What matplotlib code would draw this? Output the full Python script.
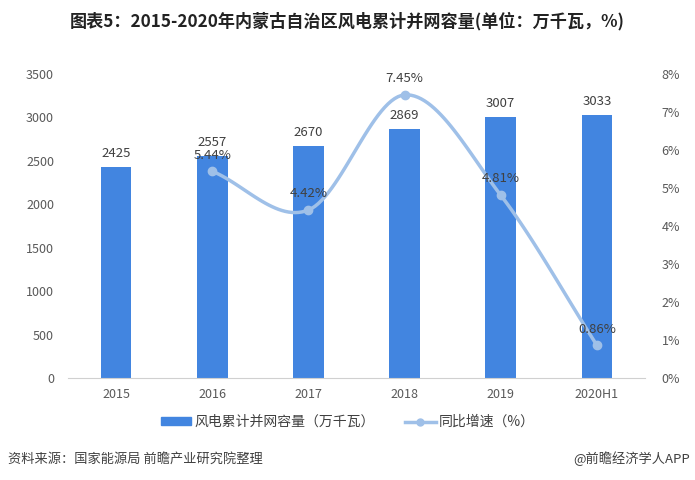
import numpy as np
import matplotlib
matplotlib.use("Agg")
import matplotlib.pyplot as plt
from matplotlib.lines import Line2D
from matplotlib.patches import Patch

plt.rcParams['font.family'] = ['Noto Sans CJK SC', 'DejaVu Sans']

categories = ['2015', '2016', '2017', '2018', '2019', '2020H1']
capacity = [2425, 2557, 2670, 2869, 3007, 3033]
growth_cats = ['2016', '2017', '2018', '2019', '2020H1']
growth = [5.44, 4.42, 7.45, 4.81, 0.86]
left_ticks = [0, 500, 1000, 1500, 2000, 2500, 3000, 3500]
right_ticks = [0, 1, 2, 3, 4, 5, 6, 7, 8]

bar_color = '#4285e0'
line_color = '#9fc0e8'
text_color = '#404040'
tick_color = '#595959'


def smooth(xs, ys, n=30):
    # catmull-rom through the points, only for drawing the curve
    xs = np.asarray(xs, float)
    ys = np.asarray(ys, float)
    px = np.concatenate([[2 * xs[0] - xs[1]], xs, [2 * xs[-1] - xs[-2]]])
    py = np.concatenate([[2 * ys[0] - ys[1]], ys, [2 * ys[-1] - ys[-2]]])
    ox, oy = [], []
    for i in range(1, len(px) - 2):
        t = np.linspace(0, 1, n)
        for p, o in ((px, ox), (py, oy)):
            p0, p1, p2, p3 = p[i - 1], p[i], p[i + 1], p[i + 2]
            o.extend(0.5 * (2 * p1 + (-p0 + p2) * t
                            + (2 * p0 - 5 * p1 + 4 * p2 - p3) * t ** 2
                            + (-p0 + 3 * p1 - 3 * p2 + p3) * t ** 3))
    return np.array(ox), np.array(oy)


fig = plt.figure(figsize=(6.95, 4.8), dpi=100)
ax = fig.add_axes([68 / 695, 1 - 378 / 480, 577 / 695, 304 / 480])

x = np.arange(len(categories))
ax.bar(x, capacity, width=0.32, color=bar_color, zorder=2)
for xi, v in zip(x, capacity):
    ax.annotate(str(v), (xi, v), xytext=(0, 5), textcoords='offset points',
                ha='center', va='bottom', fontsize=9.5, color=text_color)

ax.set_xlim(-0.5, len(categories) - 0.5)
ax.set_ylim(0, 3500)
ax.set_yticks(left_ticks)
ax.set_xticks(x)
ax.set_xticklabels(categories)
for s in ['top', 'right', 'left']:
    ax.spines[s].set_visible(False)
ax.spines['bottom'].set_color('#d0d0d0')
ax.tick_params(axis='both', length=0, labelsize=9, colors=tick_color)
ax.tick_params(axis='y', pad=10)
ax.tick_params(axis='x', pad=7)

ax2 = ax.twinx()
gx = [categories.index(c) for c in growth_cats]
sx, sy = smooth(gx, growth)
ax2.plot(sx, sy, color=line_color, lw=2.5, zorder=3)
ax2.plot(gx, growth, 'o', color=line_color, ms=6, zorder=4)
for xi, v in zip(gx, growth):
    ax2.annotate('%.2f%%' % v, (xi, v), xytext=(0, 7), textcoords='offset points',
                 ha='center', va='bottom', fontsize=9.5, color=text_color)
ax2.set_ylim(0, 8)
ax2.set_yticks(right_ticks)
ax2.set_yticklabels(['%d%%' % t for t in right_ticks])
for s in ax2.spines.values():
    s.set_visible(False)
ax2.tick_params(axis='y', length=0, labelsize=9, colors=tick_color, pad=12)

handles = [Patch(color=bar_color, label='风电累计并网容量（万千瓦）'),
           Line2D([0], [0], color=line_color, lw=2.5, marker='o', ms=5,
                  label='同比增速（%）')]
fig.legend(handles=handles, loc='center', bbox_to_anchor=(0.5, 1 - 422 / 480),
           ncol=2, frameon=False, fontsize=10, handlelength=2.2, handleheight=0.5,
           columnspacing=2.2, handletextpad=0.2, labelcolor=text_color)

fig.text(0.5, 1 - 21 / 480, '图表5：2015-2020年内蒙古自治区风电累计并网容量(单位：万千瓦，%)',
         ha='center', va='center', fontsize=12.3, fontweight='bold', color='#222222')
fig.text(8 / 695, 1 - 459 / 480, '资料来源：国家能源局 前瞻产业研究院整理',
         ha='left', va='center', fontsize=9.5, color=text_color)
fig.text(690 / 695, 1 - 459 / 480, '@前瞻经济学人APP',
         ha='right', va='center', fontsize=9.5, color=text_color)

fig.savefig('out.png', dpi=100)
